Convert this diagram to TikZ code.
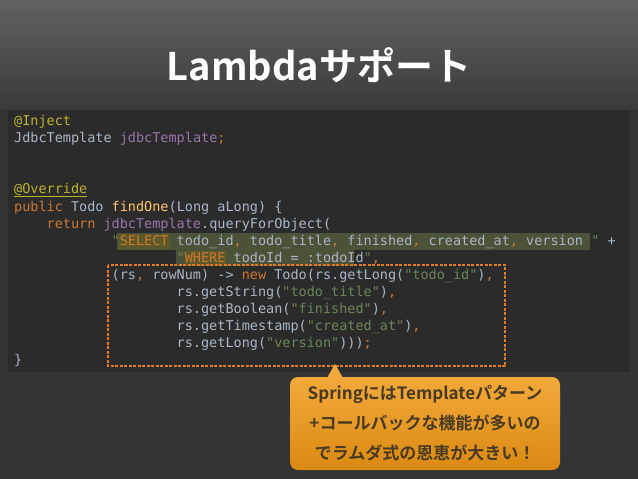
\documentclass[tikz,border=0pt]{standalone}
\usepackage{fontspec}
\setmonofont{DejaVu Sans Mono}
\newfontfamily\cjk{Noto Sans CJK JP}
\newfontfamily\cjkb{Noto Sans CJK JP Bold}
\definecolor{bg}{HTML}{3A3A3A}
\definecolor{panel}{HTML}{2B2B2B}
\definecolor{kwc}{HTML}{CC7832}
\definecolor{annc}{HTML}{BBB529}
\definecolor{fldc}{HTML}{9876AA}
\definecolor{fnc}{HTML}{FFC66D}
\definecolor{strc}{HTML}{6A8759}
\definecolor{txc}{HTML}{A9B7C6}
\definecolor{selc}{HTML}{4B5237}
\definecolor{boxc}{HTML}{E07B22}
\definecolor{calloutA}{HTML}{F2A93B}
\definecolor{calloutB}{HTML}{DB8A12}
\definecolor{calltx}{HTML}{4A3A22}
\newcommand\Kw[1]{\textcolor{kwc}{#1}}
\newcommand\An[1]{\textcolor{annc}{#1}}
\newcommand\Fl[1]{\textcolor{fldc}{#1}}
\newcommand\Fn[1]{\textcolor{fnc}{#1}}
\newcommand\St[1]{\textcolor{strc}{#1}}
\newcommand\Ind[1]{\hspace*{#1\dimexpr 0.602em\relax}}
\tikzset{codeline/.style={anchor=base west,inner sep=0pt,text=txc,font=\ttfamily\fontsize{13.5}{15}\selectfont}}
\begin{document}
\begin{tikzpicture}[x=1pt,y=-1pt]
\useasboundingbox (0,0) rectangle (638,479);
\shade[top color=bg!80!white, bottom color=bg] (0,0) rectangle (638,110);
\fill[bg!90!black] (0,110) rectangle (638,479);
\node[text=white,font=\cjkb\fontsize{38}{40}\selectfont] (title) at (319,65) {Lambdaサポート};
\fill[panel] (8,110) rectangle (630,372);
\fill[selc] (117,233) rectangle (590,250);
\fill[selc] (176,250) rectangle (354,266);
\fill[olive!55!black] (119,234) rectangle (170,249);
\fill[olive!55!black] (185,251) rectangle (226,266);
\node[codeline] (l1) at (14,125) {\An{@Inject}};
\node[codeline] (l2) at (14,142) {JdbcTemplate \Fl{jdbcTemplate}\Kw{;}};
\node[codeline] (l3) at (14,193) {\An{@Override}};
\draw[annc] (14,196) -- (87,196);
\node[codeline] (l4) at (14,211) {\Kw{public} Todo \Fn{findOne}(Long aLong) \{};
\node[codeline] (l5) at (14,228) {\Ind{4}\Kw{return} \Fl{jdbcTemplate}.queryForObject(};
\node[codeline] (l6) at (14,245) {\Ind{12}\St{"}\Kw{SELECT} todo\_id\Kw{,} todo\_title\Kw{,} finished\Kw{,} created\_at\Kw{,} version \St{"} +};
\node[codeline] (l7) at (14,262) {\Ind{20}\St{"}\Kw{WHERE} todoId = :todoId\St{"}\Kw{,}};
\node[codeline] (l8) at (14,279) {\Ind{12}(rs\Kw{,} rowNum) -> \Kw{new} Todo(rs.getLong(\St{"todo\_id"})\Kw{,}};
\node[codeline] (l9) at (14,296) {\Ind{20}rs.getString(\St{"todo\_title"})\Kw{,}};
\node[codeline] (l10) at (14,313) {\Ind{20}rs.getBoolean(\St{"finished"})\Kw{,}};
\node[codeline] (l11) at (14,330) {\Ind{20}rs.getTimestamp(\St{"created\_at"})\Kw{,}};
\node[codeline] (l12) at (14,347) {\Ind{20}rs.getLong(\St{"version"})))\Kw{;}};
\node[codeline] (l13) at (14,364) {\}};
\draw[boxc,line width=1.5pt,dash pattern=on 3pt off 1.5pt] (108,265) rectangle (505,366);
\shade[top color=calloutA,bottom color=calloutB,rounded corners=8pt] (290,377) rectangle (560,470);
\fill[calloutA] (327,378) -- (335,364) -- (343,378) -- cycle;
\node[text=calltx,font=\cjkb\fontsize{17}{30}\selectfont,align=center] (call) at (425,423) {SpringにはTemplateパターン\\+コールバックな機能が多いの\\でラムダ式の恩恵が大きい！};
\end{tikzpicture}
\end{document}
